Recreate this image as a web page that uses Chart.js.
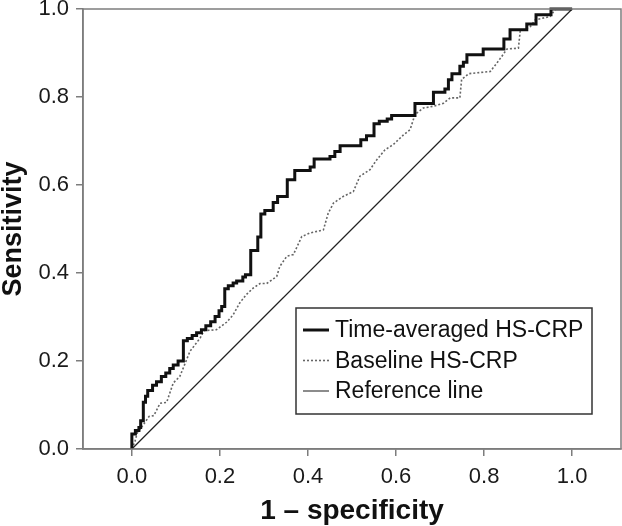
<!DOCTYPE html>
<html>
<head>
<meta charset="utf-8">
<script src="https://cdn.jsdelivr.net/npm/chart.js@4.4.1/dist/chart.umd.min.js"></script>
<style>
  body { margin: 0; background: #fff; }
  #wrap { width: 622px; height: 526px; }
</style>
</head>
<body>
<div id="wrap"><canvas id="myChart" width="622" height="526"></canvas></div>
<script>
// ROC curve coordinates (1 - specificity, sensitivity)
const timeAvgX = [0, 0, 0.008, 0.016, 0.02, 0.026, 0.031, 0.036, 0.047, 0.056, 0.067, 0.077, 0.086, 0.094, 0.105,
  0.117, 0.126, 0.137, 0.147, 0.158, 0.168, 0.179, 0.189, 0.198, 0.204, 0.211, 0.219, 0.23, 0.238, 0.252, 0.258,
  0.27, 0.286, 0.293, 0.302, 0.321, 0.331, 0.353, 0.37, 0.405, 0.414, 0.45, 0.461, 0.473, 0.52, 0.533, 0.55,
  0.562, 0.58, 0.59, 0.643, 0.685, 0.711, 0.719, 0.727, 0.745, 0.753, 0.761, 0.798, 0.845, 0.859, 0.897, 0.918,
  0.952, 1.0];
const timeAvgY = [0, 0.034, 0.042, 0.049, 0.064, 0.106, 0.12, 0.133, 0.145, 0.153, 0.165, 0.173, 0.183, 0.191, 0.2,
  0.246, 0.251, 0.258, 0.264, 0.271, 0.28, 0.289, 0.301, 0.314, 0.324, 0.364, 0.371, 0.377, 0.382, 0.391, 0.396,
  0.451, 0.482, 0.534, 0.542, 0.56, 0.574, 0.612, 0.633, 0.641, 0.659, 0.665, 0.676, 0.689, 0.703, 0.712, 0.739,
  0.745, 0.75, 0.758, 0.785, 0.811, 0.818, 0.839, 0.853, 0.87, 0.879, 0.896, 0.909, 0.932, 0.953, 0.966, 0.987,
  1.0, 1.0];

const baselineX = [0, 0.007, 0.012, 0.026, 0.039, 0.05, 0.064, 0.079, 0.094, 0.109, 0.132, 0.155, 0.164, 0.192,
  0.215, 0.23, 0.245, 0.26, 0.276, 0.291, 0.306, 0.329, 0.336, 0.352, 0.367, 0.386, 0.405, 0.435, 0.446, 0.458,
  0.48, 0.503, 0.518, 0.541, 0.556, 0.575, 0.594, 0.617, 0.632, 0.643, 0.662, 0.685, 0.708, 0.723, 0.745, 0.749,
  0.765, 0.814, 0.829, 0.84, 0.852, 0.878, 0.882, 0.905, 0.916, 0.95, 0.958, 0.962, 1.0];
const baselineY = [0, 0.017, 0.036, 0.055, 0.074, 0.076, 0.104, 0.106, 0.15, 0.165, 0.222, 0.252, 0.269, 0.271,
  0.288, 0.305, 0.332, 0.351, 0.366, 0.376, 0.376, 0.392, 0.415, 0.438, 0.442, 0.483, 0.491, 0.498, 0.536, 0.559,
  0.574, 0.585, 0.62, 0.635, 0.657, 0.68, 0.692, 0.714, 0.726, 0.76, 0.775, 0.779, 0.786, 0.798, 0.798, 0.84,
  0.853, 0.858, 0.877, 0.892, 0.909, 0.911, 0.949, 0.96, 0.975, 0.983, 0.994, 1.0, 1.0];

const refX = [0, 1];
const refY = [0, 1];

const seriesNames = ['Time-averaged HS-CRP', 'Baseline HS-CRP', 'Reference line'];
const xTicks = [0, 0.2, 0.4, 0.6, 0.8, 1.0];
const yTicks = [0, 0.2, 0.4, 0.6, 0.8, 1.0];
const xTitle = '1 \u2013 specificity';
const yTitle = 'Sensitivity';

const FONT = "'Liberation Sans', Arial, sans-serif";

function toPoints(xs, ys) {
  return xs.map((x, i) => ({ x: x, y: ys[i] }));
}

// frame round the plot area
const framePlugin = {
  id: 'frame',
  afterDraw(chart) {
    const { ctx, chartArea: a } = chart;
    ctx.save();
    ctx.strokeStyle = '#7d7d7d';
    ctx.lineWidth = 1.5;
    ctx.strokeRect(a.left, a.top, a.right - a.left, a.bottom - a.top);
    ctx.restore();
  }
};

// legend box inside the plot, bottom right
const boxLegend = {
  id: 'boxLegend',
  afterDraw(chart) {
    const ctx = chart.ctx;
    const bx = 296, by = 308, bw = 296, bh = 106;
    ctx.save();
    ctx.fillStyle = '#fff';
    ctx.fillRect(bx, by, bw, bh);
    ctx.strokeStyle = '#333';
    ctx.lineWidth = 1.5;
    ctx.strokeRect(bx, by, bw, bh);
    ctx.font = '23px ' + FONT;
    ctx.textBaseline = 'middle';
    ctx.fillStyle = '#111';
    chart.data.datasets.forEach((ds, i) => {
      const y = by + 22 + i * 30.5;
      ctx.beginPath();
      ctx.strokeStyle = i === 2 ? '#666' : ds.borderColor;
      ctx.lineWidth = i === 2 ? 1.5 : ds.borderWidth;
      ctx.setLineDash(ds.borderDash || []);
      ctx.moveTo(bx + 7, y);
      ctx.lineTo(bx + 33, y);
      ctx.stroke();
      ctx.setLineDash([]);
      ctx.fillText(ds.label, bx + 39, y + 1);
    });
    ctx.restore();
  }
};

const ctx = document.getElementById('myChart').getContext('2d');
const myChart = new Chart(ctx, {
  type: 'line',
  data: {
    datasets: [
      {
        label: seriesNames[0],
        data: toPoints(timeAvgX, timeAvgY),
        borderColor: '#111',
        borderWidth: 3,
        stepped: true,
        pointRadius: 0,
        clip: 4
      },
      {
        label: seriesNames[1],
        data: toPoints(baselineX, baselineY),
        borderColor: '#666',
        borderWidth: 1.6,
        borderDash: [2, 2],
        pointRadius: 0,
        clip: 4
      },
      {
        label: seriesNames[2],
        data: toPoints(refX, refY),
        borderColor: '#222',
        borderWidth: 1.2,
        pointRadius: 0,
        clip: 4
      }
    ]
  },
  options: {
    responsive: false,
    animation: false,
    layout: { padding: { left: 0, top: 9, right: 1, bottom: 0 } },
    plugins: {
      legend: { display: false },
      tooltip: { enabled: false }
    },
    scales: {
      x: {
        type: 'linear',
        min: -0.111,
        max: 1.111,
        afterBuildTicks: s => { s.ticks = xTicks.map(v => ({ value: v })); },
        afterFit: s => { s.height = 77; s.paddingLeft = 0; s.paddingRight = 0; },
        grid: { drawOnChartArea: false, drawTicks: true, tickLength: 7, color: '#7d7d7d', lineWidth: 1.5 },
        border: { display: true, color: '#7d7d7d', width: 1.5 },
        ticks: {
          callback: v => v.toFixed(1),
          font: { family: FONT, size: 22 },
          color: '#1a1a1a',
          padding: 8,
          maxRotation: 0,
          autoSkip: false
        },
        title: {
          display: true,
          text: xTitle,
          font: { family: FONT, size: 28, weight: 'bold', lineHeight: 1 },
          color: '#111',
          padding: { top: 0, bottom: 1 }
        }
      },
      y: {
        type: 'linear',
        min: 0,
        max: 1,
        afterBuildTicks: s => { s.ticks = yTicks.map(v => ({ value: v })); },
        afterFit: s => { s.width = 83; s.paddingTop = 0; s.paddingBottom = 0; },
        grid: { drawOnChartArea: false, drawTicks: true, tickLength: 7, color: '#7d7d7d', lineWidth: 1.5 },
        border: { display: true, color: '#7d7d7d', width: 1.5 },
        ticks: {
          callback: v => v.toFixed(1),
          font: { family: FONT, size: 22 },
          color: '#1a1a1a',
          padding: 7,
          autoSkip: false
        },
        title: {
          display: true,
          text: yTitle,
          font: { family: FONT, size: 27, weight: 'bold', lineHeight: 1 },
          color: '#111',
          padding: { top: 0, bottom: 0 }
        }
      }
    }
  },
  plugins: [framePlugin, boxLegend]
});
</script>
</body>
</html>
